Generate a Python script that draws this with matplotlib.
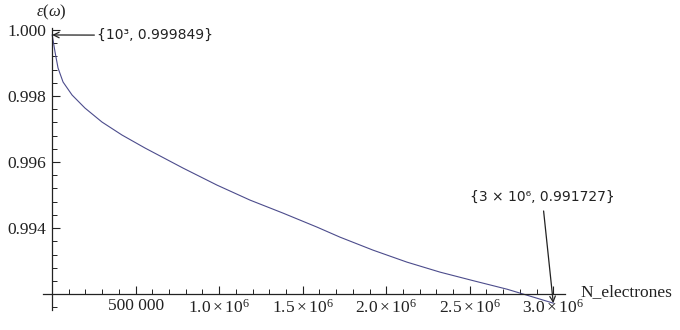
import matplotlib
matplotlib.use('Agg')
import matplotlib.pyplot as plt
from matplotlib.ticker import MultipleLocator, FixedLocator

plt.rcParams['mathtext.fontset'] = 'custom'
plt.rcParams['mathtext.rm'] = 'Liberation Serif'
plt.rcParams['mathtext.it'] = 'Liberation Serif:italic'

# curve (N electrons, epsilon)
n_electrons = [1e3, 1.8e4, 3.6e4, 6.6e4, 1.2e5, 1.97e5, 2.99e5, 4.19e5, 5.57e5,
               7.84e5, 9.87e5, 1.185e6, 1.382e6, 1.586e6, 1.723e6, 1.921e6,
               2.124e6, 2.322e6, 2.519e6, 2.723e6, 2.92e6, 3.0e6]
epsilon = [0.999849, 0.999333, 0.998848, 0.998424, 0.998030, 0.997636,
           0.997212, 0.996818, 0.996424, 0.995818, 0.995303, 0.994848,
           0.994455, 0.994030, 0.993727, 0.993333, 0.992970, 0.992667,
           0.992410, 0.992150, 0.991850, 0.991727]

x_ticks = [5e5, 1.0e6, 1.5e6, 2.0e6, 2.5e6, 3.0e6]
x_labels = ['500 000', r'$1.0\times10^{6}$', r'$1.5\times10^{6}$',
            r'$2.0\times10^{6}$', r'$2.5\times10^{6}$', r'$3.0\times10^{6}$']
y_ticks = [0.994, 0.996, 0.998, 1.000]
y_labels = ['0.994', '0.996', '0.998', '1.000']

fig = plt.figure(figsize=(6.8, 3.3), dpi=100)
ax = fig.add_axes([43 / 680, 1 - 310 / 330, (565 - 43) / 680, (310 - 28) / 330])

ax.plot(n_electrons, epsilon, color='#4c4c8c', lw=0.8)

ax.set_xlim(-0.054e6, 3.07e6)
ax.set_ylim(0.99152, 1.00006)

for s in ['top', 'right']:
    ax.spines[s].set_visible(False)
ax.spines['left'].set_position(('data', 0))
ax.spines['bottom'].set_position(('data', 0.992))
for s in ['left', 'bottom']:
    ax.spines[s].set_linewidth(0.9)
    ax.spines[s].set_color('#222222')

ax.xaxis.set_major_locator(FixedLocator(x_ticks))
ax.set_xticklabels(x_labels)
ax.xaxis.set_minor_locator(MultipleLocator(1e5))
ax.yaxis.set_major_locator(FixedLocator(y_ticks))
ax.set_yticklabels(y_labels)
ax.yaxis.set_minor_locator(MultipleLocator(0.0004))

ax.tick_params(axis='both', which='major', direction='in', length=6, width=0.8,
               color='#222222', labelsize=12.5, labelcolor='#222222', pad=4)
ax.tick_params(axis='x', which='major', pad=3)
ax.tick_params(axis='both', which='minor', direction='in', length=3.5, width=0.7,
               color='#222222')
for lab in ax.get_xticklabels() + ax.get_yticklabels():
    lab.set_family('Liberation Serif')

ax.text(3.16e6, 0.99205, 'N_electrones', family='Liberation Serif', fontsize=12.5,
        color='#222222', va='center', ha='left', clip_on=False)
fig.text(51 / 680, 1 - 12 / 330, r'$\varepsilon(\omega)$', fontsize=12,
         color='#222222', ha='center', va='center')

ax.annotate('{10³, 0.999849}', xy=(n_electrons[0], epsilon[0]),
            xytext=(0.27e6, 0.99984), fontsize=10, color='#222222',
            va='center', ha='left', family='DejaVu Sans',
            arrowprops=dict(arrowstyle='->', color='#222222', lw=0.9,
                            shrinkA=0, shrinkB=0), annotation_clip=False)
ax.annotate('{3 × 10⁶, 0.991727}', xy=(n_electrons[-1], epsilon[-1]),
            xytext=(2.5e6, 0.99494), fontsize=10, color='#222222',
            va='center', ha='left', family='DejaVu Sans',
            arrowprops=dict(arrowstyle='->', color='#222222', lw=0.9,
                            shrinkA=3, shrinkB=0), annotation_clip=False)

fig.savefig('out.png', dpi=100)
